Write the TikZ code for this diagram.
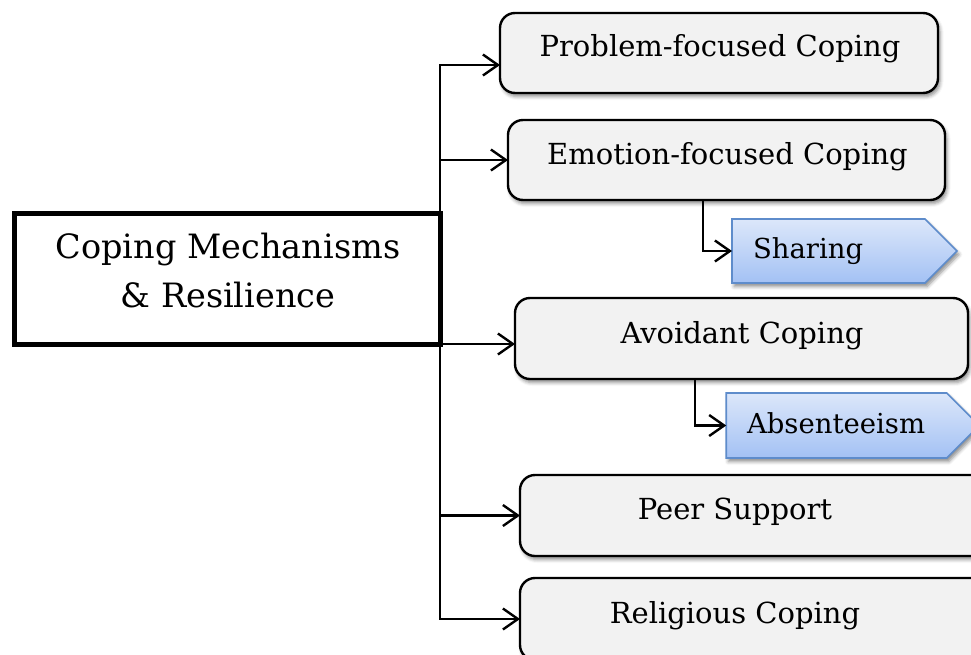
\documentclass[tikz,border=0pt]{standalone}
\usepackage{fontspec}
\setmainfont{DejaVu Serif}
\usetikzlibrary{arrows.meta,shapes.symbols,shadows.blur}

\definecolor{boxgrey}{HTML}{F2F2F2}
\definecolor{tagtop}{HTML}{DCE7FA}
\definecolor{tagbottom}{HTML}{A3C1F4}
\definecolor{tagedge}{HTML}{5E8CCB}

\begin{document}
\begin{tikzpicture}[x=1pt,y=-1pt,
  every node/.style={outer sep=0pt, inner sep=0pt},
  conn/.style={line width=2.4pt, -{Straight Barb[length=15pt,width=21pt]}},
  softshadow/.style={blur shadow={shadow xshift=2pt, shadow yshift=-3.5pt,
      shadow blur radius=3.5pt, shadow opacity=45}},
  topicbox/.style={rectangle, draw=black, line width=2.4pt, rounded corners=15pt,
      fill=boxgrey, softshadow},
  rootbox/.style={rectangle, draw=black, line width=5pt, fill=white},
  tagbox/.style={signal, signal to=east, signal pointer angle=90,
      draw=tagedge, line width=1.6pt, top color=tagtop, bottom color=tagbottom,
      softshadow},
  boxtext/.style={font=\fontsize{29}{35}\selectfont, anchor=base},
  tagtext/.style={font=\fontsize{27.5}{33}\selectfont, anchor=base west},
  roottext/.style={font=\fontsize{33.5}{40}\selectfont, anchor=base},
]
\clip (0,0) rectangle (971,654);

% root box
\node[rootbox, minimum width=425.5pt, minimum height=130.5pt] (root) at (227.25,278.75) {};
\node[roottext] (rootA) at (228,258) {Coping Mechanisms};
\node[roottext] (rootB) at (228,307) {\& Resilience};

% category boxes
\node[topicbox, minimum width=438pt, minimum height=80pt] (prob) at (719,53) {};
\node[topicbox, minimum width=437pt, minimum height=80pt] (emo) at (726.5,160) {};
\node[topicbox, minimum width=453pt, minimum height=81pt] (avoid) at (741.5,338.5) {};
\node[topicbox, minimum width=470pt, minimum height=81pt] (peer) at (755,515.5) {};
\node[topicbox, minimum width=470pt, minimum height=82pt] (relig) at (755,619) {};

\node[boxtext] (probT) at (720,56) {Problem-focused Coping};
\node[boxtext] (emoT) at (727.5,164) {Emotion-focused Coping};
\node[boxtext] (avoidT) at (742,343) {Avoidant Coping};
\node[boxtext] (peerT) at (735,519) {Peer Support};
\node[boxtext] (religT) at (735,623) {Religious Coping};

% sub-item tags
\node[tagbox, minimum width=225pt, minimum height=64pt] (share) at (828.5,251) {};
\node[tagbox, minimum width=253pt, minimum height=65pt] (absent) at (836.5,425.5) {};
\node[tagtext] (shareT) at (753,258) {Sharing};
\node[tagtext] (absentT) at (747,433) {Absenteeism};

% connectors from the root
\draw[conn] (root.east) |- ([yshift=-12pt]prob.west);
\draw[conn] (root.east) |- (emo.west);
\draw[conn] (root.south east) -- (root.south east -| avoid.west);
\draw[conn] (root.east) |- (peer.west);
\draw[conn] (root.east) |- (relig.west);

% connectors to the sub-items
\draw[conn] ([xshift=195pt]emo.south west) |- (share.west);
\draw[conn] ([xshift=180pt]avoid.south west) |- (absent.west);
\end{tikzpicture}
\end{document}
